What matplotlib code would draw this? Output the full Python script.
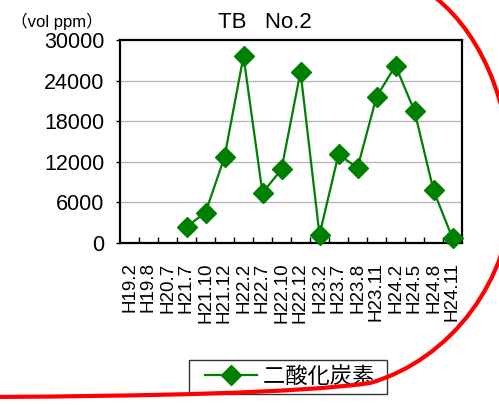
import matplotlib
matplotlib.use("Agg")
import matplotlib.pyplot as plt
from matplotlib.path import Path
from matplotlib.patches import PathPatch
from matplotlib.legend_handler import HandlerLine2D

plt.rcParams['font.family'] = ['Liberation Sans', 'Noto Sans CJK JP', 'DejaVu Sans']

# データ
categories = ['H19.2', 'H19.8', 'H20.7', 'H21.7', 'H21.10', 'H21.12',
              'H22.2', 'H22.7', 'H22.10', 'H22.12', 'H23.2', 'H23.7',
              'H23.8', 'H23.11', 'H24.2', 'H24.5', 'H24.8', 'H24.11']
co2 = [None, None, None, 2400, 4500, 12700,
       27600, 7400, 10900, 25300, 1200, 13100,
       11100, 21600, 26200, 19500, 7800, 700]
yticks = [0, 6000, 12000, 18000, 24000, 30000]

W, H = 499, 405
fig = plt.figure(figsize=(W / 100, H / 100), dpi=100)
ax = fig.add_axes([120 / W, 1 - 243 / H, 342 / W, 203 / H])

xs = [i for i, v in enumerate(co2) if v is not None]
ys = [v for v in co2 if v is not None]
line, = ax.plot(xs, ys, color='#008000', lw=1.6, marker='D', ms=10,
                label='二酸化炭素 ', zorder=3, clip_on=False)

ax.set_xlim(-0.5, len(categories) - 0.5)
ax.set_ylim(0, 30000)
ax.set_yticks(yticks)
ax.set_yticklabels([str(v) for v in yticks], fontsize=15.5)
ax.tick_params(axis='y', direction='out', length=3, width=1, pad=8)
ax.set_xticks(range(len(categories)))
ax.set_xticklabels(categories, rotation=90, fontsize=13.5)
ax.set_xticks([i + 0.5 for i in range(len(categories) - 1)], minor=True)
ax.tick_params(axis='x', which='major', length=0, pad=14)
ax.tick_params(axis='x', which='minor', direction='in', length=4, width=1)
for y in yticks[1:-1]:
    ax.axhline(y, color='#888888', lw=0.9, ls=(0, (1, 0.6)), zorder=1)
for s in ax.spines.values():
    s.set_linewidth(1.6)
    s.set_color('black')

fig.text(265 / W, 1 - 23 / H, 'TB   No.2', ha='center', va='center', fontsize=16)
fig.text(11 / W, 1 - 21 / H, '（vol ppm）', ha='left', va='center', fontsize=12)

leg = fig.legend(handles=[line], loc='center', bbox_to_anchor=(288 / W, 1 - 377 / H),
                 fontsize=16, frameon=True, fancybox=False, handlelength=2.75,
                 borderpad=0.3, handletextpad=0.3, borderaxespad=0,
                 handler_map={line: HandlerLine2D(xpad=0.45)})
leg.get_frame().set_edgecolor('black')
leg.get_frame().set_linewidth(1)

# 赤い囲み線
def px(x, y):
    return (x / W, 1 - y / H)

verts = [px(425, -10), px(478, 25), px(512, 100), px(512, 190),
         px(512, 280), px(450, 360), px(370, 383),
         px(300, 393), px(150, 396), px(-10, 397)]
codes = [Path.MOVETO] + [Path.CURVE4] * 9
patch = PathPatch(Path(verts, codes), transform=fig.transFigure,
                  facecolor='none', edgecolor='#ff0000', lw=3, zorder=10)
fig.patches.append(patch)

fig.savefig('out.png', dpi=100)
